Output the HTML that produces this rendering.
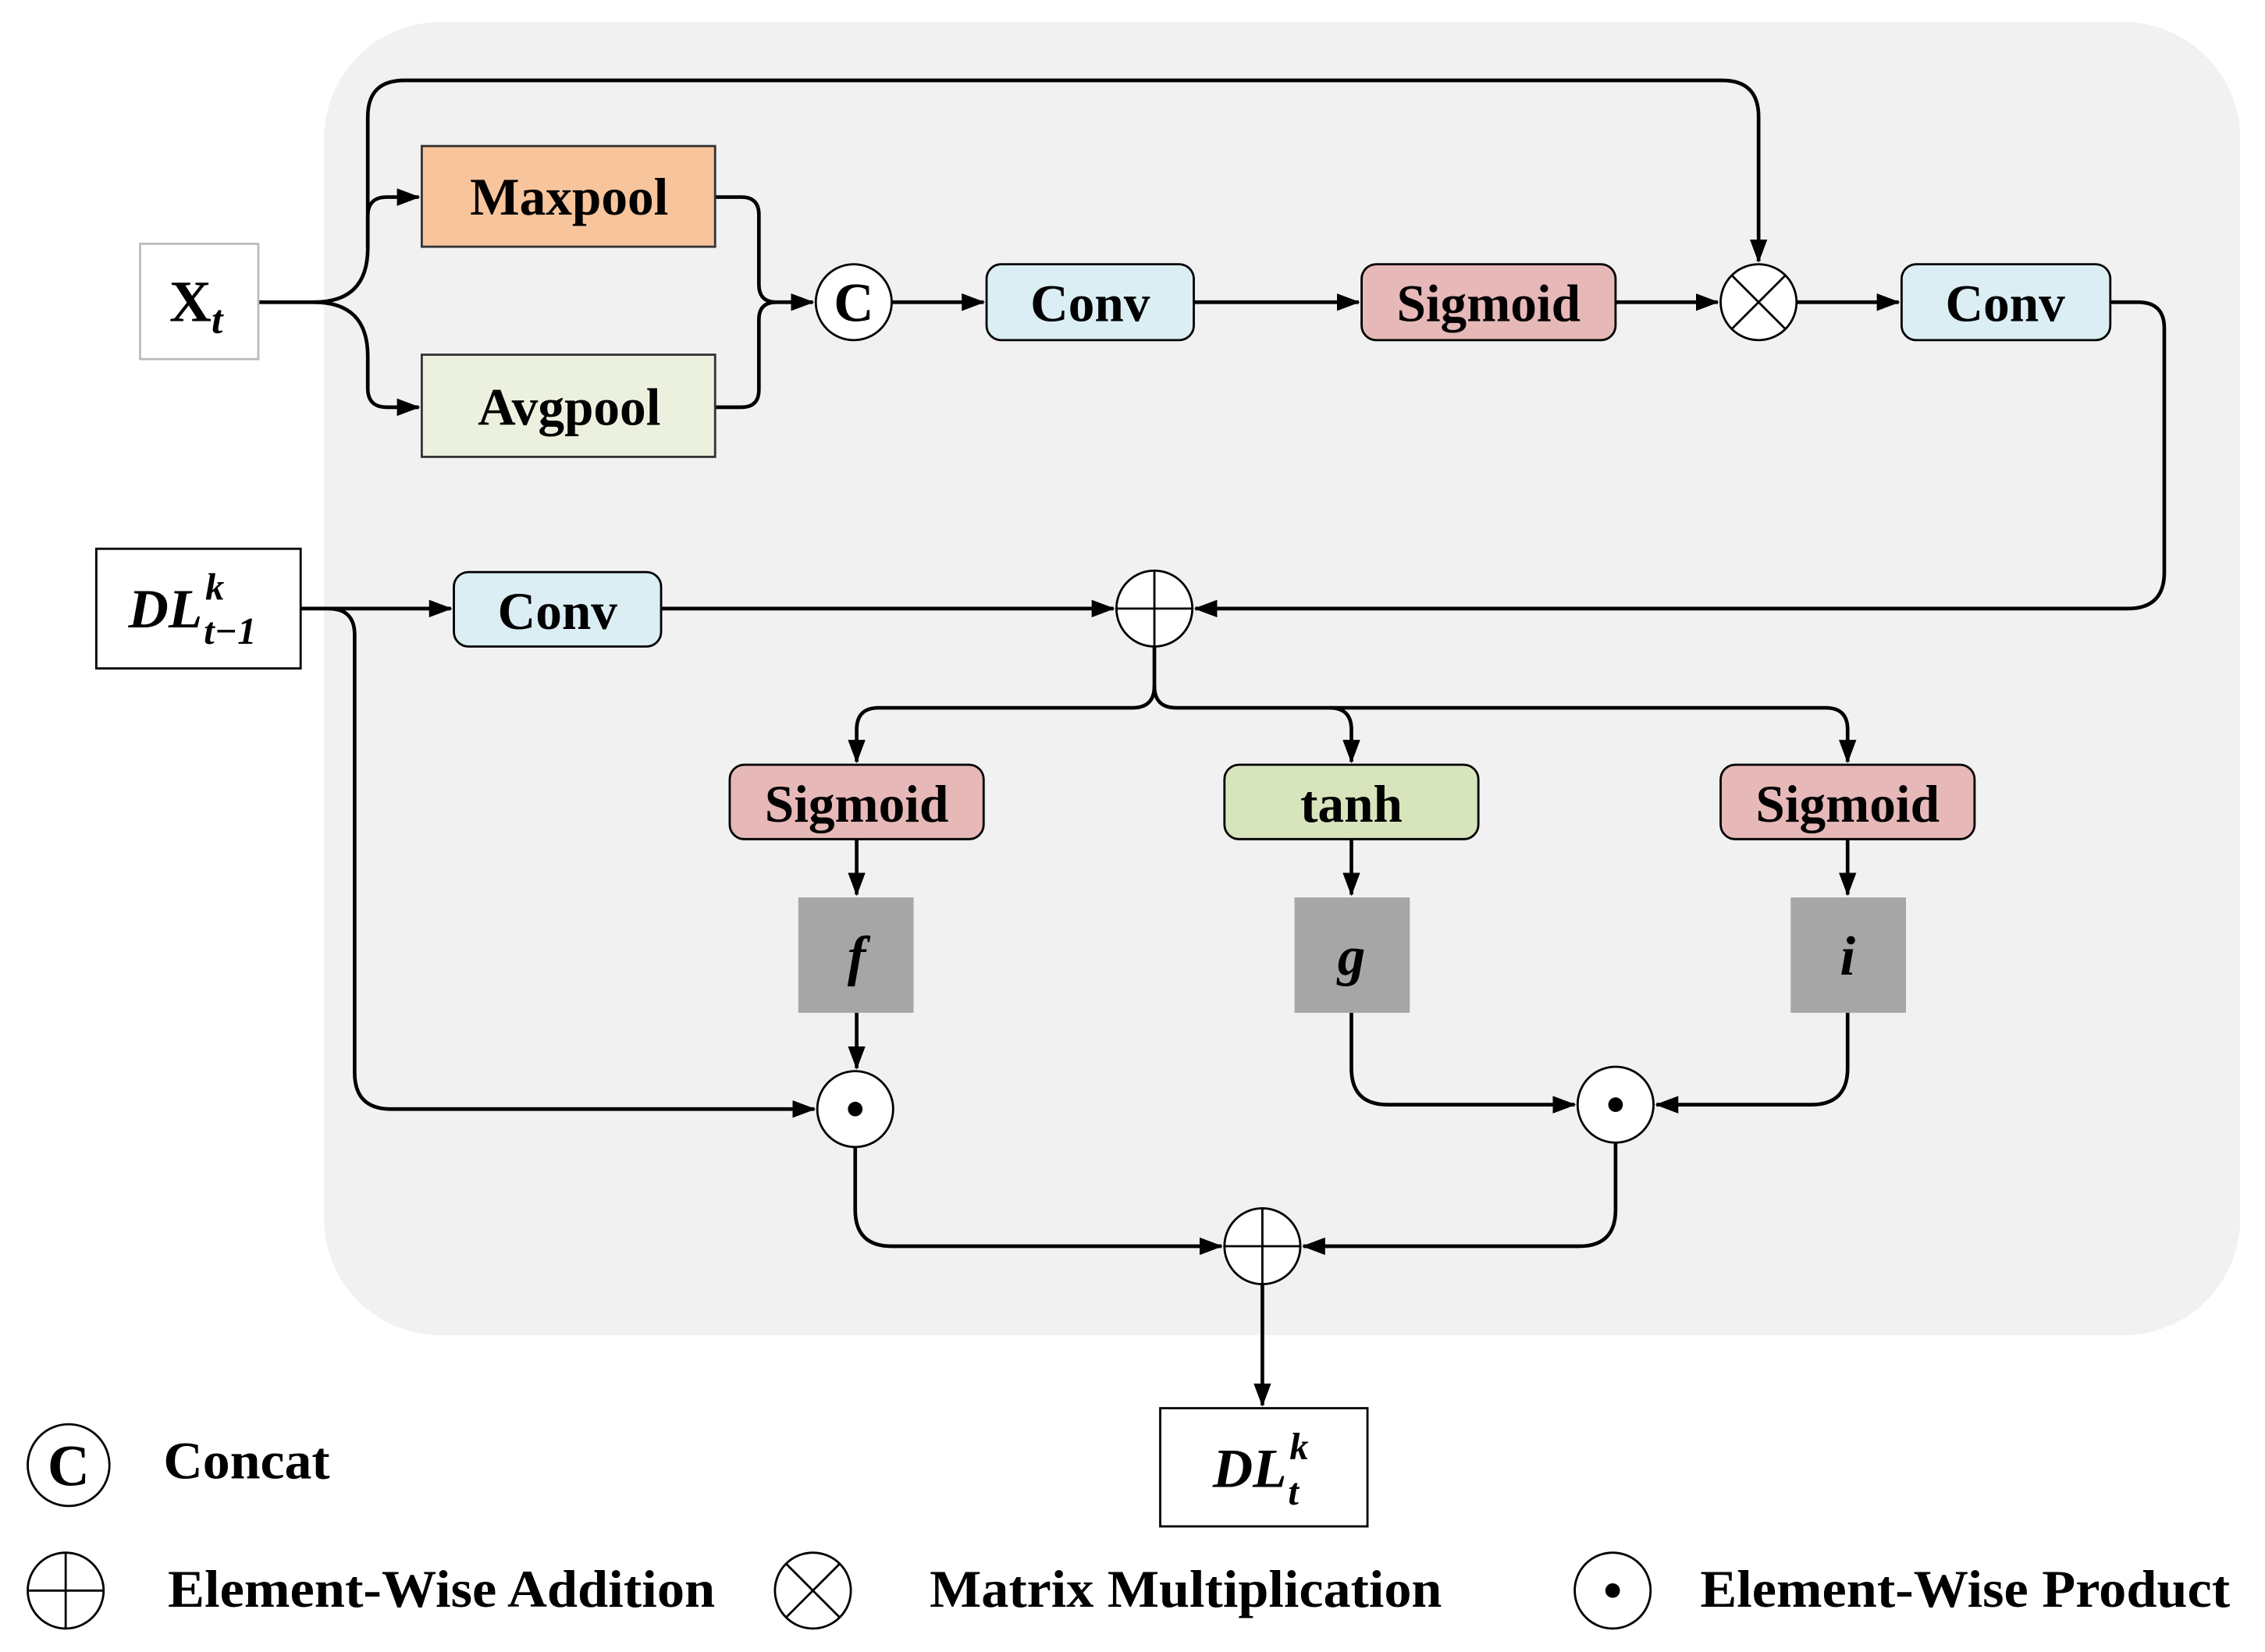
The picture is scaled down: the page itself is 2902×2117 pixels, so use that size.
<!DOCTYPE html>
<html><head><meta charset="utf-8"><style>
html,body{margin:0;padding:0;background:#fff;}
svg{display:block;}
text{font-family:"Liberation Serif",serif;font-weight:bold;}
</style></head><body>
<svg width="2902" height="2117" viewBox="0 0 1552 1132" xmlns="http://www.w3.org/2000/svg">
<defs>
<marker id="a" markerWidth="16" markerHeight="12" refX="15" refY="6" orient="auto" markerUnits="userSpaceOnUse" viewBox="0 0 16 12">
<path d="M0,0 L16,6 L0,12 z" fill="#000"/></marker>
</defs>
<rect x="222" y="15" width="1313" height="900" rx="80" fill="#f1f1f1"/>
<g fill="none" stroke="#000" stroke-width="2.5">
<path d="M177,207 H215 Q252,207 252,170 V148 Q252,135 265,135 H287" marker-end="url(#a)"/>
<path d="M215,207 Q252,207 252,244 V266 Q252,279 265,279 H287" marker-end="url(#a)"/>
<path d="M252,170 V80 Q252,55 277,55 H1180 Q1205,55 1205,80 V179" marker-end="url(#a)"/>
<path d="M490,135 H508 Q520,135 520,147 V195 Q520,207 532,207 H557" marker-end="url(#a)"/>
<path d="M490,279 H508 Q520,279 520,267 V219 Q520,207 532,207"/>
<path d="M611,207 H674" marker-end="url(#a)"/>
<path d="M818,207 H931" marker-end="url(#a)"/>
<path d="M1107,207 H1177" marker-end="url(#a)"/>
<path d="M1231,207 H1301" marker-end="url(#a)"/>
<path d="M1446,207 H1465 Q1483,207 1483,225 V392 Q1483,417 1458,417 H819" marker-end="url(#a)"/>
<path d="M206,417 H309" marker-end="url(#a)"/>
<path d="M225,417 Q243,417 243,435 V735 Q243,760 268,760 H558" marker-end="url(#a)"/>
<path d="M453,417 H763" marker-end="url(#a)"/>
<path d="M791,443 V470 Q791,485 776,485 H602 Q587,485 587,500 V522" marker-end="url(#a)"/>
<path d="M791,470 Q791,485 806,485 H911 Q926,485 926,500 V522" marker-end="url(#a)"/>
<path d="M911,485 H1251 Q1266,485 1266,500 V522" marker-end="url(#a)"/>
<path d="M587,575 V613" marker-end="url(#a)"/>
<path d="M926,575 V613" marker-end="url(#a)"/>
<path d="M1266,575 V613" marker-end="url(#a)"/>
<path d="M587,694 V732" marker-end="url(#a)"/>
<path d="M926,694 V732 Q926,757 951,757 H1079" marker-end="url(#a)"/>
<path d="M1266,694 V732 Q1266,757 1241,757 H1135" marker-end="url(#a)"/>
<path d="M586,786 V829 Q586,854 611,854 H837" marker-end="url(#a)"/>
<path d="M1107,783 V829 Q1107,854 1082,854 H893" marker-end="url(#a)"/>
<path d="M865,880 V963" marker-end="url(#a)"/>
</g>
<rect x="96" y="167" width="81" height="79" fill="#fff" stroke="#bbb" stroke-width="1.5"/>
<text x="116" y="220" font-size="40">X<tspan font-size="28" font-style="italic" dy="8">t</tspan></text>
<rect x="289" y="100" width="201" height="69" fill="#f8c49c" stroke="#333" stroke-width="1.5"/>
<text x="390" y="147" font-size="36" text-anchor="middle">Maxpool</text>
<rect x="289" y="243" width="201" height="70" fill="#ebf1de" stroke="#333" stroke-width="1.5"/>
<text x="390" y="291" font-size="36" text-anchor="middle">Avgpool</text>
<g stroke="#000" stroke-width="1.5">
<rect x="676" y="181" width="142" height="52" rx="10" fill="#daeef3"/>
<rect x="933" y="181" width="174" height="52" rx="10" fill="#e6b8b7"/>
<rect x="1303" y="181" width="143" height="52" rx="10" fill="#daeef3"/>
<rect x="311" y="392" width="142" height="51" rx="10" fill="#daeef3"/>
<rect x="500" y="524" width="174" height="51" rx="10" fill="#e6b8b7"/>
<rect x="839" y="524" width="174" height="51" rx="10" fill="#d8e4bc"/>
<rect x="1179" y="524" width="174" height="51" rx="10" fill="#e6b8b7"/>
</g>
<g font-size="36" text-anchor="middle">
<text x="747" y="220">Conv</text>
<text x="1020" y="220">Sigmoid</text>
<text x="1374" y="220">Conv</text>
<text x="382" y="431">Conv</text>
<text x="587" y="563">Sigmoid</text>
<text x="926" y="563">tanh</text>
<text x="1266" y="563">Sigmoid</text>
</g>
<rect x="547" y="615" width="79" height="79" fill="#a6a6a6"/>
<rect x="887" y="615" width="79" height="79" fill="#a6a6a6"/>
<rect x="1227" y="615" width="79" height="79" fill="#a6a6a6"/>
<g font-size="38" font-style="italic" text-anchor="middle">
<text x="587" y="668">f</text><text x="926" y="668">g</text><text x="1266" y="668">i</text>
</g>
<rect x="66" y="376" width="140" height="82" fill="#fff" stroke="#000" stroke-width="1.5"/>
<text x="88" y="430" font-size="38" font-style="italic">DL<tspan font-size="26" dx="2" dy="-19">k</tspan><tspan font-size="26" dx="-14" dy="30">t−1</tspan></text>
<rect x="795" y="965" width="142" height="81" fill="#fff" stroke="#000" stroke-width="1.5"/>
<text x="831" y="1019" font-size="38" font-style="italic">DL<tspan font-size="26" dx="2" dy="-19">k</tspan><tspan font-size="26" dx="-14" dy="31">t</tspan></text>
<g fill="#fff" stroke="#000" stroke-width="1.5">
<circle cx="585" cy="207" r="26"/>
<circle cx="1205" cy="207" r="26"/>
<circle cx="791" cy="417" r="26"/>
<circle cx="586" cy="760" r="26"/>
<circle cx="1107" cy="757" r="26"/>
<circle cx="865" cy="854" r="26"/>
<circle cx="47" cy="1004" r="28"/>
<circle cx="45" cy="1090" r="26"/>
<circle cx="557" cy="1090" r="26"/>
<circle cx="1105" cy="1090" r="26"/>
</g>
<g stroke="#000" stroke-width="1.5">
<path d="M1187,189 L1223,225 M1223,189 L1187,225"/>
<path d="M791,391 V443 M765,417 H817"/>
<path d="M865,828 V880 M839,854 H891"/>
<path d="M45,1064 V1116 M19,1090 H71"/>
<path d="M539,1072 L575,1108 M575,1072 L539,1108"/>
</g>
<circle cx="586" cy="760" r="5"/><circle cx="1107" cy="757" r="5"/><circle cx="1105" cy="1090" r="5"/>
<text x="585" y="220" font-size="38" text-anchor="middle">C</text>
<text x="47" y="1018" font-size="40" text-anchor="middle">C</text>
<g font-size="36">
<text x="112" y="1013" textLength="114" lengthAdjust="spacingAndGlyphs">Concat</text>
<text x="115" y="1101" textLength="375" lengthAdjust="spacingAndGlyphs">Element-Wise Addition</text>
<text x="637" y="1101" textLength="351" lengthAdjust="spacingAndGlyphs">Matrix Multiplication</text>
<text x="1165" y="1101" textLength="363" lengthAdjust="spacingAndGlyphs">Element-Wise Product</text>
</g>
</svg>
</body></html>
